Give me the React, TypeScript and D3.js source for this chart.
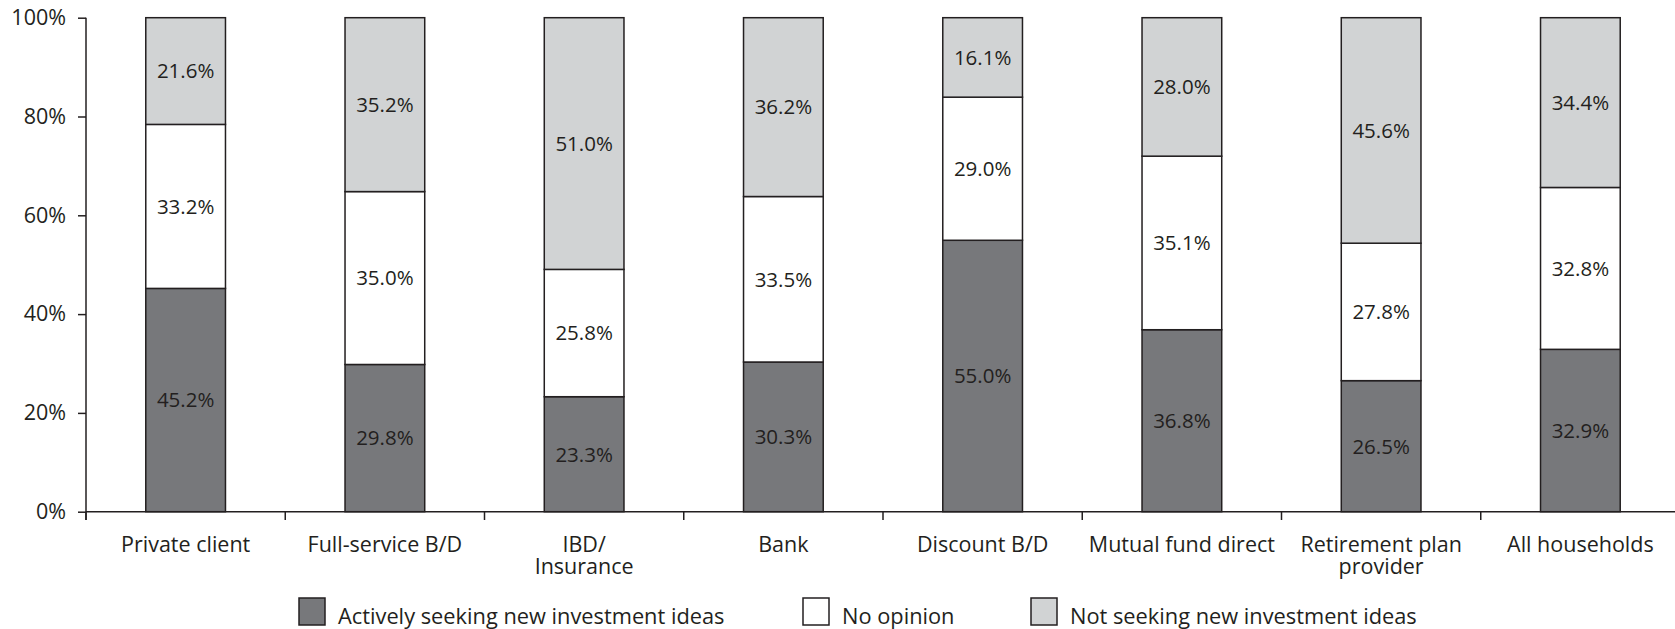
import React, { useEffect, useRef } from 'react';
import * as d3 from 'd3';

// shares of households by advisor channel (percent)
const categories = [
  'Private client',
  'Full-service B/D',
  'IBD/\nInsurance',
  'Bank',
  'Discount B/D',
  'Mutual fund direct',
  'Retirement plan\nprovider',
  'All households',
];
const activelySeeking = [45.2, 29.8, 23.3, 30.3, 55.0, 36.8, 26.5, 32.9];
const noOpinion = [33.2, 35.0, 25.8, 33.5, 29.0, 35.1, 27.8, 32.8];
const notSeeking = [21.6, 35.2, 51.0, 36.2, 16.1, 28.0, 45.6, 34.4];
const seriesNames = [
  'Actively seeking new investment ideas',
  'No opinion',
  'Not seeking new investment ideas',
];
const yTicks = [0, 20, 40, 60, 80, 100];

const fills = ['#77787b', '#ffffff', '#d1d3d4'];
const ink = '#231f20';
const font = "'Open Sans', sans-serif";

const W = 1675;
const H = 629;

const App = () => {
  const svgRef = useRef<SVGSVGElement>(null);

  useEffect(() => {
    const svg = d3.select(svgRef.current);
    svg.selectAll('*').remove();

    const keys = ['a', 'b', 'c'];
    const table = categories.map((c, i) => ({
      name: c,
      a: activelySeeking[i],
      b: noOpinion[i],
      c: notSeeking[i],
    }));
    const layers = d3.stack<any>().keys(keys).offset(d3.stackOffsetExpand)(table);

    const x = d3.scaleBand().domain(categories).range([86, 1680]);
    const y = d3.scaleLinear().domain([0, 1]).range([511.7, 17.7]);
    const bw = x.bandwidth() * 0.4;

    // bars
    const g = svg.append('g');
    layers.forEach((layer, li) => {
      g.append('g')
        .selectAll('rect')
        .data(layer)
        .join('rect')
        .attr('x', (d: any) => x(d.data.name)! + x.bandwidth() * 0.3)
        .attr('width', bw)
        .attr('y', (d) => y(d[1]))
        .attr('height', (d) => y(d[0]) - y(d[1]))
        .attr('fill', fills[li])
        .attr('stroke', ink)
        .attr('stroke-width', 1.5);
    });

    // value labels
    layers.forEach((layer) => {
      g.append('g')
        .selectAll('text')
        .data(layer)
        .join('text')
        .attr('x', (d: any) => x(d.data.name)! + x.bandwidth() / 2)
        .attr('y', (d) => (y(d[0]) + y(d[1])) / 2)
        .attr('dy', '0.36em')
        .attr('text-anchor', 'middle')
        .attr('font-family', font)
        .attr('font-size', 20.5)
        .attr('fill', ink)
        .text((d: any) => d.data[layer.key].toFixed(1) + '%');
    });

    // y axis
    const yAxis = d3
      .axisLeft(y)
      .tickValues(yTicks.map((t) => t / 100))
      .tickFormat((t) => `${Math.round(+t * 100)}%`)
      .tickSize(8)
      .tickPadding(12);
    const ya = svg.append('g').attr('transform', 'translate(86,0)').call(yAxis);
    ya.select('.domain').attr('d', `M0,${y(1)}V520`);
    ya.selectAll('line, path').attr('stroke', ink).attr('stroke-width', 1.5);
    ya.selectAll('text').attr('font-family', font).attr('font-size', 21.5).attr('fill', ink);

    // x axis
    const xa = svg.append('g');
    xa.append('line')
      .attr('x1', 86)
      .attr('x2', 1680)
      .attr('y1', y(0))
      .attr('y2', y(0))
      .attr('stroke', ink)
      .attr('stroke-width', 1.5);
    xa.selectAll('.tick')
      .data(categories)
      .join('line')
      .attr('x1', (c) => x(c)!)
      .attr('x2', (c) => x(c)!)
      .attr('y1', y(0))
      .attr('y2', 520)
      .attr('stroke', ink)
      .attr('stroke-width', 1.5);
    const labels = xa
      .selectAll('text')
      .data(categories)
      .join('text')
      .attr('text-anchor', 'middle')
      .attr('font-family', font)
      .attr('font-size', 21.5)
      .attr('fill', ink)
      .attr('transform', (c) => `translate(${x(c)! + x.bandwidth() / 2},552)`);
    labels
      .selectAll('tspan')
      .data((c) => c.split('\n'))
      .join('tspan')
      .attr('x', 0)
      .attr('y', (_, i) => i * 22)
      .text((s) => s);

    // legend
    const legendX = [299, 803, 1031];
    const lg = svg.append('g');
    seriesNames.forEach((name, i) => {
      lg.append('rect')
        .attr('x', legendX[i])
        .attr('y', 598)
        .attr('width', 26)
        .attr('height', 27)
        .attr('fill', fills[i])
        .attr('stroke', ink)
        .attr('stroke-width', 1.5);
      lg.append('text')
        .attr('x', legendX[i] + 39)
        .attr('y', 624)
        .attr('font-family', font)
        .attr('font-size', 21.8)
        .attr('fill', ink)
        .text(name);
    });
  }, []);

  return (
    <svg
      ref={svgRef}
      width={W}
      height={H}
      style={{ position: 'absolute', left: 0, top: 0, background: '#fff' }}
    />
  );
};

export default App;
